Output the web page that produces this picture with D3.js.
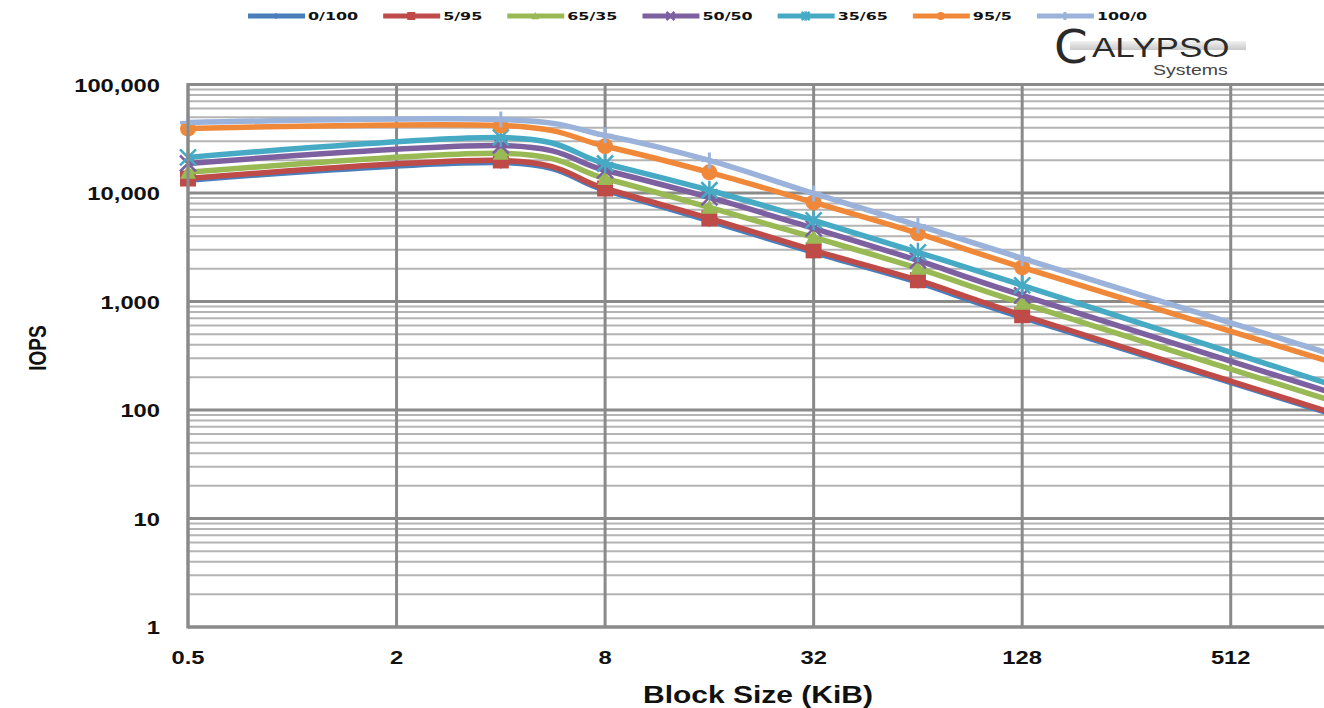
<!DOCTYPE html>
<html><head><meta charset="utf-8">
<script src="https://cdn.jsdelivr.net/npm/d3@7"></script>
<style>
html,body{margin:0;padding:0;background:#fff;overflow:hidden;}
svg{display:block;}
</style></head>
<body>
<svg id="chart" width="1324" height="708"></svg>
<script>
// ---- data ----
const blockSizes = [0.5, 4, 8, 16, 32, 64, 128, 1024];
const seriesNames = ["0/100", "5/95", "65/35", "50/50", "35/65", "95/5", "100/0"];
const rw0_100  = [13100, 19100, 10600, 5550, 2830, 1500, 713, 90];
const rw5_95   = [13600, 19950, 11000, 5830, 2960, 1570, 747, 92];
const rw65_35  = [15500, 23200, 13600, 7370, 3900, 2020, 962, 119];
const rw50_50  = [18700, 27400, 16200, 9100, 4720, 2390, 1140, 141];
const rw35_65  = [21300, 32500, 18700, 10600, 5600, 2840, 1410, 167];
const rw95_5   = [39300, 41900, 27000, 15500, 8190, 4250, 2065, 270];
const rw100_0  = [44700, 47600, 34000, 19950, 9900, 5030, 2500, 320];
const seriesValues = [rw0_100, rw5_95, rw65_35, rw50_50, rw35_65, rw95_5, rw100_0];
const xTickValues = [0.5, 2, 8, 32, 128, 512];
const xTickLabels = ["0.5", "2", "8", "32", "128", "512"];
const yTickValues = [1, 10, 100, 1000, 10000, 100000];
const yTickLabels = ["1", "10", "100", "1,000", "10,000", "100,000"];

// ---- styles ----
const colors = ["#4a7ebb", "#be4b48", "#98b954", "#7d60a0", "#46aac5", "#f0883a", "#9bb2da"];
const markers = ["diamond", "square", "triangle", "x", "star", "circle", "plus"];

const svg = d3.select("#chart");
const x = d3.scaleLog().base(2).domain([0.5, 1024]).range([188, 1335]);
const y = d3.scaleLog().domain([1, 100000]).range([627, 84.5]);
const SX = 1.25; // horizontal stretch of the reference text

// minor horizontal gridlines
const minor = [];
for (let d = 1; d < 100000; d *= 10) for (let k = 2; k <= 9; k++) minor.push(d * k);
svg.append("g").selectAll("line").data(minor).join("line")
  .attr("x1", x(0.5)).attr("x2", 1324)
  .attr("y1", d => y(d)).attr("y2", d => y(d))
  .attr("stroke", "#b4b4b4").attr("stroke-width", 2);
// major horizontal gridlines
svg.append("g").selectAll("line").data(yTickValues).join("line")
  .attr("x1", x(0.5)).attr("x2", 1324)
  .attr("y1", d => y(d)).attr("y2", d => y(d))
  .attr("stroke", "#8a8a8a").attr("stroke-width", 3);
// vertical gridlines
svg.append("g").selectAll("line").data(xTickValues).join("line")
  .attr("x1", d => x(d)).attr("x2", d => x(d))
  .attr("y1", y(100000) - 1).attr("y2", y(1) + 1)
  .attr("stroke", "#8a8a8a").attr("stroke-width", 3);

// tick labels
const yl = svg.append("g");
yTickValues.forEach((v, i) => {
  yl.append("g").attr("transform", `translate(160,${y(v) + 7}) scale(${SX},1)`)
    .append("text").attr("text-anchor", "end")
    .attr("font-family", "Liberation Sans, Arial, sans-serif").attr("font-weight", "bold")
    .attr("font-size", 19).attr("fill", "#111").text(yTickLabels[i]);
});
const xl = svg.append("g");
xTickValues.forEach((v, i) => {
  xl.append("g").attr("transform", `translate(${x(v)},664) scale(${SX},1)`)
    .append("text").attr("text-anchor", "middle")
    .attr("font-family", "Liberation Sans, Arial, sans-serif").attr("font-weight", "bold")
    .attr("font-size", 19).attr("fill", "#111").text(xTickLabels[i]);
});
// axis titles
svg.append("g").attr("transform", `translate(758,703) scale(${SX},1)`)
  .append("text").attr("text-anchor", "middle")
  .attr("font-family", "Liberation Sans, Arial, sans-serif").attr("font-weight", "bold")
  .attr("font-size", 24).attr("fill", "#111").text("Block Size (KiB)");
svg.append("g").attr("transform", `translate(46,348) scale(${SX},1) rotate(-90)`)
  .append("text").attr("text-anchor", "middle")
  .attr("font-family", "Liberation Sans, Arial, sans-serif").attr("font-weight", "bold")
  .attr("font-size", 19).attr("fill", "#111").text("IOPS");

// marker drawing
function drawMarker(g, type, color, s) {
  const h = s / 2;
  if (type === "diamond") {
    g.append("path").attr("d", `M0,${-h * 0.8}L${h * 0.8},0L0,${h * 0.8}L${-h * 0.8},0Z`).attr("fill", color);
  } else if (type === "square") {
    g.append("rect").attr("x", -h).attr("y", -h).attr("width", s).attr("height", s).attr("fill", color);
  } else if (type === "triangle") {
    g.append("path").attr("d", `M0,${-h}L${h},${h * 0.8}L${-h},${h * 0.8}Z`).attr("fill", color);
  } else if (type === "x") {
    g.append("path").attr("d", `M${-h},${-h}L${h},${h}M${h},${-h}L${-h},${h}`).attr("stroke", color).attr("stroke-width", 2.5);
  } else if (type === "star") {
    g.append("path").attr("d", `M${-h},${-h}L${h},${h}M${h},${-h}L${-h},${h}M0,${-h * 1.2}L0,${h * 1.2}`).attr("stroke", color).attr("stroke-width", 2.5);
  } else if (type === "circle") {
    g.append("circle").attr("r", h).attr("fill", color);
  } else if (type === "plus") {
    g.append("path").attr("d", `M${-h},0L${h},0M0,${-h}L0,${h}`).attr("stroke", color).attr("stroke-width", 3);
  }
}

// series
const line = d3.line().x(d => x(d[0])).y(d => y(d[1])).curve(d3.curveCatmullRom.alpha(0));
const plot = svg.append("g");
seriesValues.forEach((vals, i) => {
  const pts = blockSizes.map((b, j) => [b, vals[j]]);
  const g = plot.append("g");
  g.append("path").datum(pts).attr("d", line).attr("fill", "none")
    .attr("stroke", colors[i]).attr("stroke-width", 5.5).attr("stroke-linejoin", "round");
  pts.forEach(p => {
    const mg = g.append("g").attr("transform", `translate(${x(p[0])},${y(p[1])})`);
    drawMarker(mg, markers[i], colors[i], 16);
  });
});

// axes lines on top
svg.append("line").attr("x1", x(0.5)).attr("x2", x(0.5)).attr("y1", y(100000) - 1.5).attr("y2", y(1) + 1.5)
  .attr("stroke", "#8a8a8a").attr("stroke-width", 3);
svg.append("line").attr("x1", x(0.5)).attr("x2", 1324).attr("y1", y(1)).attr("y2", y(1))
  .attr("stroke", "#8a8a8a").attr("stroke-width", 3);

// legend
const leg = svg.append("g");
let lx = 248;
seriesNames.forEach((name, i) => {
  const g = leg.append("g");
  g.append("line").attr("x1", lx).attr("x2", lx + 57).attr("y1", 16).attr("y2", 16)
    .attr("stroke", colors[i]).attr("stroke-width", 5);
  const mg = g.append("g").attr("transform", `translate(${lx + 28},16)`);
  drawMarker(mg, markers[i], colors[i], 8);
  const tg = g.append("g").attr("transform", `translate(${lx + 60},20) scale(1.45,1)`);
  const t = tg.append("text").attr("font-family", "DejaVu Sans, sans-serif").attr("font-weight", "bold")
    .attr("font-size", 11).attr("fill", "#111").text(name);
  const w = t.node().getComputedTextLength() * 1.45;
  lx += 57 + 3 + w + 25;
});

// logo
const logo = svg.append("g");
const grad = svg.append("defs").append("linearGradient").attr("id", "bar").attr("x1", 0).attr("x2", 0).attr("y1", 0).attr("y2", 1);
grad.append("stop").attr("offset", "0%").attr("stop-color", "#f2f2f2");
grad.append("stop").attr("offset", "100%").attr("stop-color", "#c8c8c8");
logo.append("rect").attr("x", 1070).attr("y", 41).attr("width", 176).attr("height", 9).attr("fill", "url(#bar)");
logo.append("g").attr("transform", `translate(1054,63) scale(1.05,1)`)
  .append("text").attr("font-family", "DejaVu Sans, sans-serif").attr("font-size", 46)
  .attr("fill", "#2a2a2a").text("C");
logo.append("g").attr("transform", `translate(1092,57) scale(1.25,1)`)
  .append("text").attr("font-family", "Liberation Sans, Arial, sans-serif").attr("font-size", 28)
  .attr("fill", "#2a2a2a").text("ALYPSO");
logo.append("g").attr("transform", `translate(1153,75) scale(1.3,1)`)
  .append("text").attr("font-family", "Liberation Sans, Arial, sans-serif").attr("font-size", 15)
  .attr("fill", "#444").text("Systems");
</script>
</body></html>
